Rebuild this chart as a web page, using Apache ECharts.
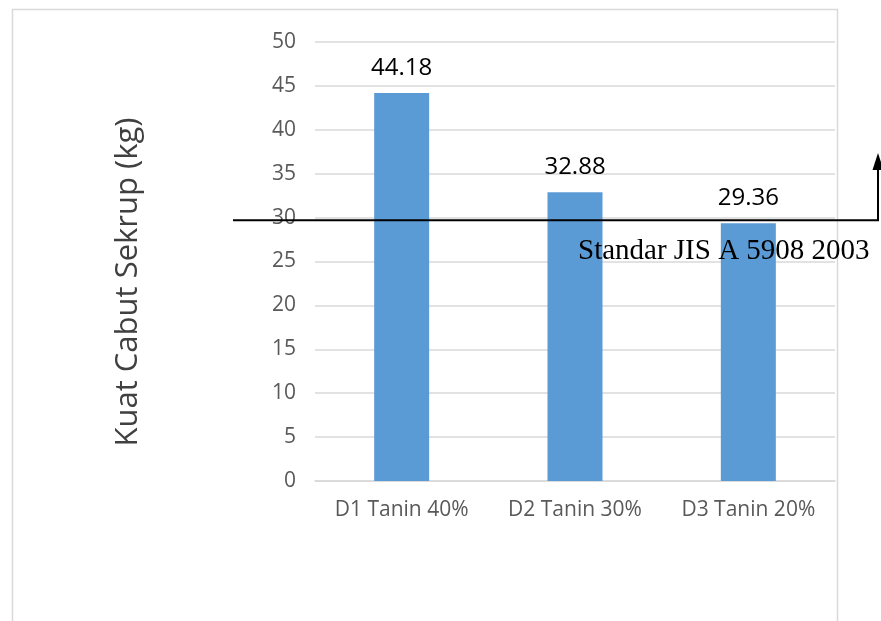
<!DOCTYPE html>
<html>
<head>
<meta charset="utf-8">
<script src="https://cdn.jsdelivr.net/npm/echarts@6/dist/echarts.min.js"></script>
<style>html,body{margin:0;padding:0;background:#fff;}#c{width:881px;height:621px;}</style>
</head>
<body>
<div id="c"></div>
<script>
const categories = ["D1 Tanin 40%", "D2 Tanin 30%", "D3 Tanin 20%"];
const values = [44.18, 32.88, 29.36];
const yTicks = [0, 5, 10, 15, 20, 25, 30, 35, 40, 45, 50];
const standardValue = [29.7];
const standardLabel = ["Standar JIS A 5908 2003"];
const yTitle = "Kuat Cabut Sekrup (kg)";

const chart = echarts.init(document.getElementById('c'), null, {renderer: 'canvas'});
const font = '"Open Sans", "Noto Sans", sans-serif';
chart.setOption({
  animation: false,
  backgroundColor: '#fff',
  grid: {left: 315, right: 46, top: 42, bottom: 140, containLabel: false},
  xAxis: {
    type: 'category',
    data: categories,
    axisTick: {show: false},
    axisLine: {lineStyle: {color: '#d9d9d9', width: 1.5}},
    axisLabel: {color: '#595959', fontSize: 21, fontFamily: font, margin: 19, interval: 0}
  },
  yAxis: {
    type: 'value',
    min: yTicks[0], max: yTicks[yTicks.length - 1], interval: 5,
    axisLine: {show: false},
    axisTick: {show: false},
    splitLine: {lineStyle: {color: '#d9d9d9', width: 1.5}},
    axisLabel: {color: '#595959', fontSize: 21, fontFamily: font, margin: 19}
  },
  series: [{
    type: 'bar',
    data: values,
    barWidth: 55,
    itemStyle: {color: '#5B9BD5'},
    label: {show: true, position: 'top', distance: 13, color: '#000', fontSize: 24, fontFamily: font,
      formatter: p => p.value.toFixed(2)}
  }]
});

const ys = chart.convertToPixel({yAxisIndex: 0}, standardValue[0]);
chart.setOption({
  graphic: [
    {type: 'rect', shape: {x: 12.5, y: 9.5, width: 825, height: 640}, style: {fill: 'none', stroke: '#d9d9d9', lineWidth: 1.5}, z: -1},
    {type: 'text', x: 128, y: 282, rotation: Math.PI / 2,
      style: {text: yTitle, fill: '#404040', font: '31px "Open Sans", "Noto Sans", sans-serif', textAlign: 'center', textVerticalAlign: 'middle'}},
    {type: 'polyline', shape: {points: [[233, ys], [878, ys], [878, 168]]}, style: {stroke: '#000', lineWidth: 2, fill: 'none'}, z: 100},
    {type: 'polygon', shape: {points: [[872.5, 170], [883.5, 170], [878, 153]]}, style: {fill: '#000'}, z: 100},
    {type: 'text', x: 578, y: ys + 31, style: {text: standardLabel[0], fill: '#000', font: '29px "Liberation Serif", "Times New Roman", serif', textVerticalAlign: 'middle'}, z: 100}
  ]
});
</script>
</body>
</html>
